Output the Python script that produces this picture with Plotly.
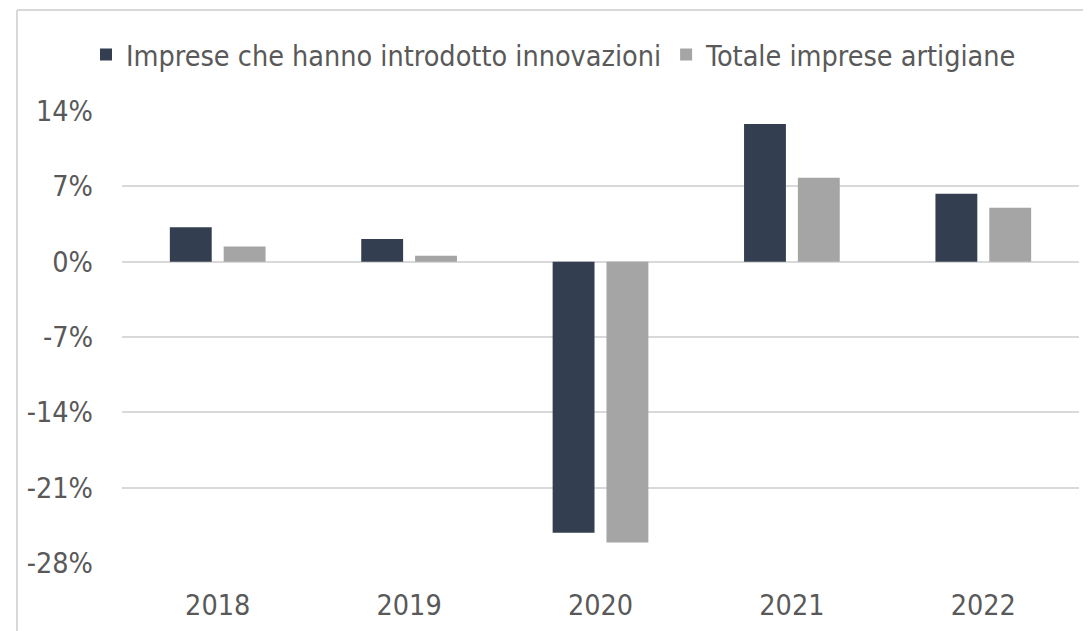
import plotly.graph_objects as go

years = ["2018", "2019", "2020", "2021", "2022"]
innovative = [3.2, 2.1, -25.2, 12.8, 6.3]
total = [1.4, 0.55, -26.1, 7.8, 5.0]
series_names = ["Imprese che hanno introdotto innovazioni", "Totale imprese artigiane"]
y_ticks = [14, 7, 0, -7, -14, -21, -28]
y_tick_labels = ["14%", "7%", "0%", "-7%", "-14%", "-21%", "-28%"]

FONT = "DejaVu Sans Condensed, DejaVu Sans, sans-serif"
TXT = "#595959"
FS = 28.5

fig = go.Figure()
fig.add_trace(go.Bar(x=years, y=innovative, name=series_names[0],
                     marker=dict(color="#333F50", line=dict(width=0))))
fig.add_trace(go.Bar(x=years, y=total, name=series_names[1],
                     marker=dict(color="#A5A5A5", line=dict(width=0))))

# page is offset by the 8px default body margin
OFF = 8
W, H = 1091 - OFF, 631 - OFF
ml, mr, mt, mb = 122 - OFF, 12, 111 - OFF, 631 - 563
pw = W - ml - mr
ph = H - mt - mb

def px_x(px):  # page px -> paper
    return (px - OFF - ml) / pw

def px_y(py):
    return 1 - (py - OFF - mt) / ph

fig.update_layout(
    width=W, height=H,
    margin=dict(l=ml, r=mr, t=mt, b=mb, pad=0, autoexpand=False),
    paper_bgcolor="white", plot_bgcolor="white",
    barmode="group", bargap=0.4375, bargroupgap=0.222,
    font=dict(family=FONT, color=TXT, size=FS),
    showlegend=True,
    legend=dict(orientation="h", x=px_x(86), y=px_y(55), xanchor="left", yanchor="middle",
                font=dict(family=FONT, size=FS, color=TXT), itemwidth=30,
                bgcolor="rgba(0,0,0,0)", traceorder="normal"),
    xaxis=dict(showgrid=False, showline=False, zeroline=False, ticks="",
               tickfont=dict(family=FONT, size=FS, color=TXT), ticklabelstandoff=22,
               fixedrange=True, automargin=False),
    yaxis=dict(range=[-28, 14], tickvals=y_ticks, ticktext=y_tick_labels,
               showgrid=True, gridcolor="#D9D9D9", gridwidth=2,
               zeroline=True, zerolinecolor="#D9D9D9", zerolinewidth=2,
               showline=False, ticks="",
               tickfont=dict(family=FONT, size=FS, color=TXT), ticklabelstandoff=28,
               fixedrange=True, automargin=False),
    shapes=[
        dict(type="line", xref="paper", yref="paper",
             x0=px_x(17), x1=px_x(1100), y0=px_y(10), y1=px_y(10),
             line=dict(color="#D9D9D9", width=2), layer="below"),
        dict(type="line", xref="paper", yref="paper",
             x0=px_x(17), x1=px_x(17), y0=px_y(10), y1=px_y(640),
             line=dict(color="#D9D9D9", width=2), layer="below"),
    ],
)

fig.write_html("out.html")
